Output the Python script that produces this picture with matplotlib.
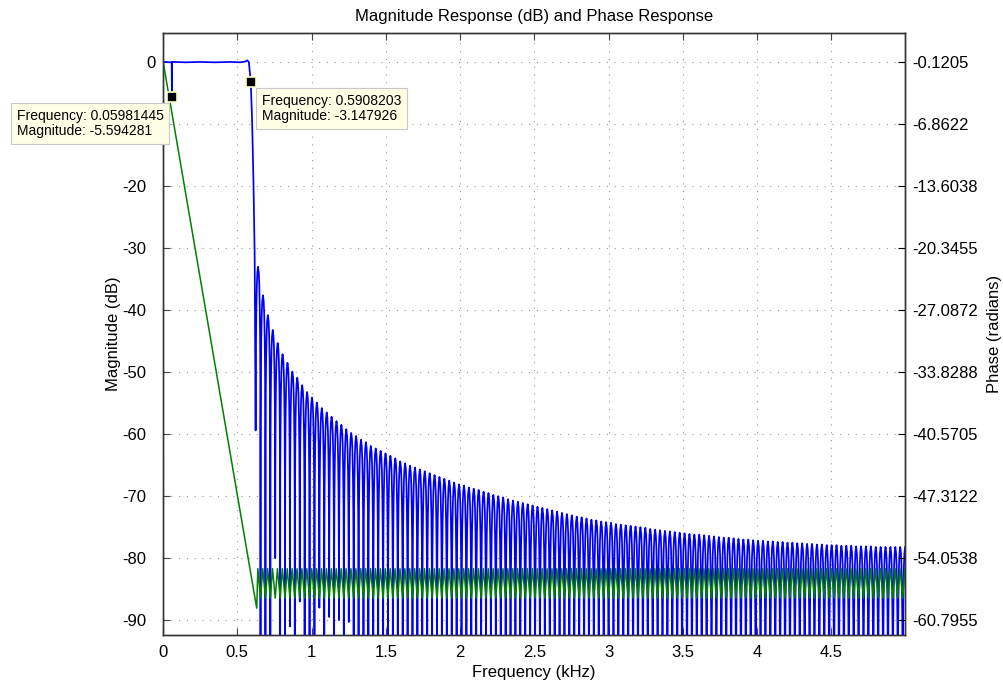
import numpy as np
import matplotlib.pyplot as plt

plt.rcParams['font.family'] = ['Liberation Sans', 'DejaVu Sans']

# passband and transition band of the magnitude response (kHz, dB)
pass_freq = [0.0, 0.02, 0.05, 0.0585, 0.0598, 0.0611, 0.08, 0.15, 0.25, 0.35, 0.45,
             0.52, 0.555, 0.567, 0.578, 0.5908, 0.600, 0.609, 0.617, 0.6235]
pass_db = [0.0, 0.03, -0.03, 0.0, -5.594281, 0.0, 0.03, -0.03, 0.03, -0.03, 0.03,
           -0.03, 0.1, 0.3, 0.0, -3.147926, -9.5, -19.3, -31.0, -59.4]

# stopband side lobes: first lobe peak, spacing and peak levels (dB)
lobe_start = 0.64
lobe_step = 0.033
lobe_peak_db = [
    -33.0, -37.6, -40.8, -43.2, -45.3, -47.1, -48.5, -49.9, -50.9, -52.1,
    -53.2, -54.1, -54.9, -55.8, -56.5, -57.2, -57.9, -58.5, -59.2, -59.8,
    -60.3, -60.9, -61.3, -61.9, -62.3, -62.7, -63.1, -63.5, -63.9, -64.4,
    -64.7, -65.1, -65.4, -65.7, -66.0, -66.3, -66.6, -66.9, -67.2, -67.5,
    -67.8, -68.1, -68.3, -68.6, -68.8, -69.0, -69.3, -69.5, -69.8, -70.0,
    -70.2, -70.5, -70.7, -70.9, -71.1, -71.3, -71.5, -71.7, -71.9, -72.1,
    -72.3, -72.5, -72.7, -72.9, -73.1, -73.3, -73.4, -73.6, -73.8, -73.9,
    -74.1, -74.2, -74.3, -74.5, -74.6, -74.7, -74.8, -74.9, -75.0, -75.1,
    -75.3, -75.4, -75.5, -75.6, -75.7, -75.8, -75.9, -76.0, -76.1, -76.2,
    -76.2, -76.3, -76.4, -76.5, -76.6, -76.7, -76.7, -76.8, -76.9, -77.0,
    -77.0, -77.1, -77.2, -77.2, -77.3, -77.3, -77.4, -77.4, -77.5, -77.5,
    -77.6, -77.6, -77.7, -77.7, -77.8, -77.8, -77.9, -77.9, -77.9, -78.0,
    -78.0, -78.0, -78.1, -78.1, -78.1, -78.1, -78.2, -78.2, -78.2, -78.2,
    -78.2, -78.2, -78.2,
]
null_start = 0.6235
null_default_db = -140.0
shallow_nulls = {0: -59.4, 4: -80.0, 7: -91.0, 9: -87.0, 13: -88.0,
                 15: -89.5, 17: -90.0, 19: -90.3}
# shape of one lobe between two nulls (fraction of lobe, dB below peak)
lobe_u = [0.03, 0.08, 0.15, 0.25, 0.35, 0.5, 0.65, 0.75, 0.85, 0.92, 0.97]
lobe_shape_db = [-20.5, -12.1, -6.9, -3.0, -1.0, 0.0, -1.0, -3.0, -6.9, -12.1, -20.5]

# phase response (kHz, radians)
phase_freq = [0.0, 0.631]
phase_rad = [0.0, -59.5]
phase_hi = -55.2
phase_lo = -58.4
phase_rise = 0.45

# build magnitude curve
mag_f = list(pass_freq)
mag_db = list(pass_db)
for k, peak in enumerate(lobe_peak_db):
    n0 = null_start + k * lobe_step
    for u, o in zip(lobe_u, lobe_shape_db):
        mag_f.append(n0 + u * lobe_step)
        mag_db.append(peak + o)
    mag_f.append(n0 + lobe_step)
    mag_db.append(shallow_nulls.get(k + 1, null_default_db))

# build phase curve
ph_f = list(phase_freq)
ph_v = list(phase_rad)
for k in range(len(lobe_peak_db)):
    n0 = null_start + k * lobe_step
    ph_f.append(n0 + phase_rise * lobe_step)
    ph_v.append(phase_hi)
    ph_f.append(n0 + lobe_step)
    ph_v.append(phase_lo)

fig = plt.figure(figsize=(10.04, 6.85), dpi=100)
ax = fig.add_axes([163 / 1004, 1 - 635 / 685, (905 - 163) / 1004, (635 - 33) / 685])
ax2 = ax.twinx()

ylo, yhi = -92.4, 4.7
scale = 0.674168
off = -0.1205
ax.set_ylim(ylo, yhi)
ax2.set_ylim(off + scale * ylo, off + scale * yhi)
ax.set_xlim(0, 4.995)

ax.plot(mag_f, mag_db, color='#0000ff', lw=1.25, zorder=3)
ax2.plot(ph_f, ph_v, color='#008000', lw=1.1, zorder=2)

xt = [0, 0.5, 1, 1.5, 2, 2.5, 3, 3.5, 4, 4.5]
ax.set_xticks(xt)
ax.set_xticklabels(['0', '0.5', '1', '1.5', '2', '2.5', '3', '3.5', '4', '4.5'])
yt = [0, -10, -20, -30, -40, -50, -60, -70, -80, -90]
ax.set_yticks(yt)
ax.set_yticklabels([str(v) for v in yt])
rt = ['-0.1205', '-6.8622', '-13.6038', '-20.3455', '-27.0872', '-33.8288',
      '-40.5705', '-47.3122', '-54.0538', '-60.7955']
ax2.set_yticks([float(s) for s in rt])
ax2.set_yticklabels(rt)

grid_kw = dict(color='#999999', lw=0.8, linestyle=(0, (1, 6)))
ax.grid(True, **grid_kw)

ax.tick_params(direction='in', length=5, labelsize=12, color='#444444', top=True)
ax.tick_params(axis='y', pad=12)
ax.tick_params(axis='x', pad=7)
ax2.tick_params(direction='in', length=5, labelsize=12, color='black', pad=5)

for a in (ax, ax2):
    for s in a.spines.values():
        s.set_color('#333333')
        s.set_linewidth(1.0)

ax.set_xlabel('Frequency (kHz)', fontsize=12, labelpad=4)
ax.set_ylabel('Magnitude (dB)', fontsize=12, labelpad=1)
ax2.set_ylabel('Phase (radians)', fontsize=12, rotation=90, labelpad=7)
ax.set_title('Magnitude Response (dB) and Phase Response', fontsize=12, pad=9)

# data cursors (drawn on the top axes so they sit over both curves)
cursors = [(0.05981445, -5.594281, (-155, -12)),
           (0.5908203, -3.147926, (11, -12))]
for fx, my, offs in cursors:
    py = off + scale * my
    ax2.plot([fx], [py], marker='s', ms=7.5, color='black', mec='#ffffcc', mew=1.2,
             zorder=6, clip_on=False)
    ftxt = ('%.8f' % fx).rstrip('0') if fx < 0.1 else '%.7f' % fx
    ax2.annotate('Frequency: %s\nMagnitude: %.6f' % (ftxt, my),
                 xy=(fx, py), xytext=offs, textcoords='offset pixels',
                 ha='left', va='top', fontsize=10, linespacing=1.15, zorder=7,
                 bbox=dict(boxstyle='square,pad=0.4', fc='#ffffe6', ec='#c8c8c8', lw=0.8))

# the "0" label sits closer to the axis in the original
fig.canvas.draw()
for t in ax.yaxis.get_major_ticks():
    if t.label1.get_text() == '0':
        t.label1.set_horizontalalignment('left')

fig.savefig('out.png', dpi=100)
